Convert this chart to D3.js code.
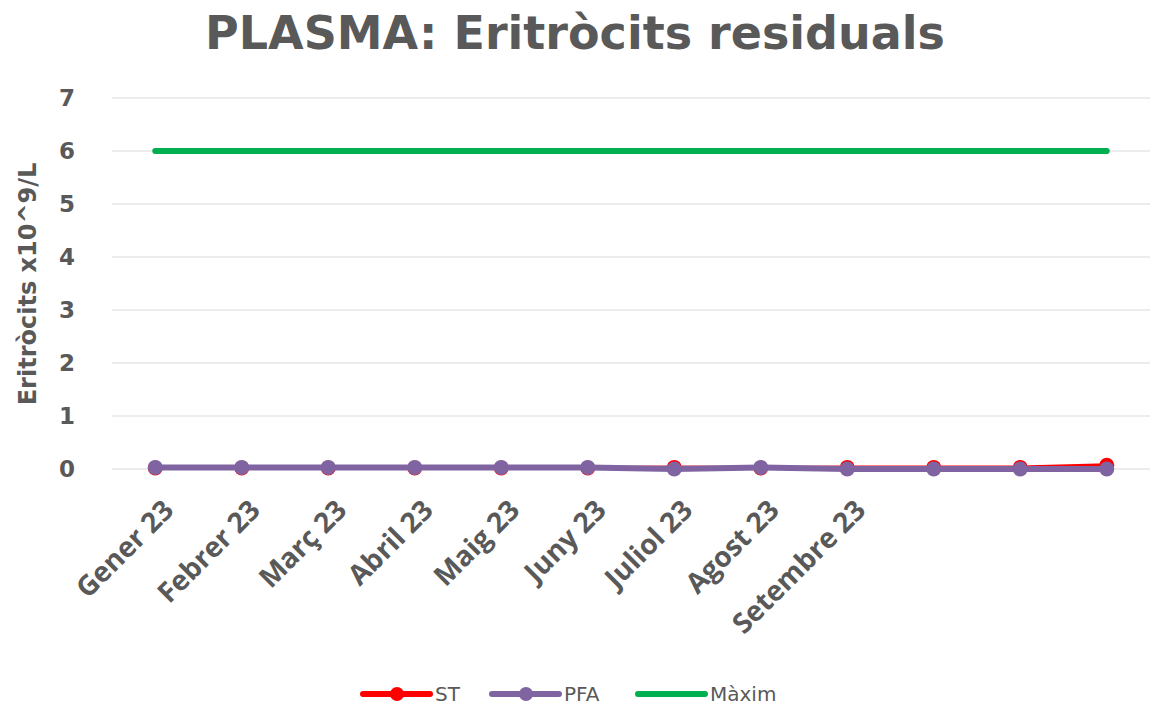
<!DOCTYPE html>
<html>
<head>
<meta charset="utf-8">
<script src="https://cdn.jsdelivr.net/npm/d3@7"></script>
<style>
  body { margin: 0; background: #fff; }
  text { fill: #595959; }
</style>
</head>
<body>
<div class="canvas"></div>
<script>
const months = ['Gener 23', 'Febrer 23', 'Març 23', 'Abril 23', 'Maig 23', 'Juny 23',
  'Juliol 23', 'Agost 23', 'Setembre 23', '', ' ', '  '];
const stValues = [0.02, 0.02, 0.02, 0.02, 0.02, 0.02, 0.03, 0.02, 0.03, 0.03, 0.03, 0.07];
const pfaValues = [0.03, 0.03, 0.03, 0.03, 0.03, 0.03, 0.0, 0.03, 0.0, 0.0, 0.0, 0.0];
const maxValues = [6, 6, 6, 6, 6, 6, 6, 6, 6, 6, 6, 6];
const yTicks = [0, 1, 2, 3, 4, 5, 6, 7];

const width = 1152, height = 709;
const svg = d3.select('.canvas').append('svg')
  .attr('width', width)
  .attr('height', height);

const margin = { top: 98, right: 2, bottom: 240, left: 112 };
const graphWidth = width - margin.left - margin.right;
const graphHeight = height - margin.top - margin.bottom;

const graph = svg.append('g')
  .attr('transform', `translate(${margin.left}, ${margin.top})`);

const x = d3.scaleBand()
  .domain(months)
  .range([0, graphWidth]);

const y = d3.scaleLinear()
  .domain([0, 7])
  .range([graphHeight, 0]);

// title
svg.append('text')
  .attr('x', 575)
  .attr('y', 49)
  .attr('text-anchor', 'middle')
  .style('font-family', 'DejaVu Sans')
  .style('font-weight', 'bold')
  .style('font-size', '46px')
  .text('PLASMA: Eritròcits residuals');

// gridlines
graph.append('g')
  .selectAll('line')
  .data(yTicks)
  .enter().append('line')
  .attr('x1', 0)
  .attr('x2', graphWidth)
  .attr('y1', d => y(d))
  .attr('y2', d => y(d))
  .attr('stroke', '#d9d9d9')
  .attr('stroke-width', 1.2);

// y axis
const yAxis = d3.axisLeft(y).tickValues(yTicks).tickFormat(d3.format('d')).tickSize(0).tickPadding(0);
const yAxisGroup = graph.append('g')
  .attr('transform', 'translate(-37, 0)')
  .call(yAxis);
yAxisGroup.select('.domain').remove();
yAxisGroup.selectAll('text')
  .style('font-family', 'DejaVu Sans')
  .style('font-weight', 'bold')
  .style('font-size', '23px')
  .attr('fill', '#595959');

// y axis title
svg.append('text')
  .attr('transform', 'translate(36, 284) rotate(-90)')
  .attr('text-anchor', 'middle')
  .style('font-family', 'DejaVu Sans')
  .style('font-weight', 'bold')
  .style('font-size', '24px')
  .text('Eritròcits x10^9/L');

// x axis
const xAxis = d3.axisBottom(x).tickSize(0).tickPadding(0);
const xAxisGroup = graph.append('g')
  .attr('transform', `translate(0, ${graphHeight})`)
  .call(xAxis);
xAxisGroup.select('.domain').remove();
xAxisGroup.selectAll('text')
  .attr('transform', 'translate(20, 43) rotate(-45)')
  .attr('text-anchor', 'end')
  .attr('dy', '0')
  .style('font-family', 'Open Sans')
  .style('font-weight', 'bold')
  .style('font-size', '28px')
  .attr('fill', '#595959');

const cx = d => x(d) + x.bandwidth() / 2;

const series = [
  { name: 'ST', values: stValues, color: '#ff0000', width: 4, marker: true },
  { name: 'PFA', values: pfaValues, color: '#8064a2', width: 6, marker: true },
  { name: 'Màxim', values: maxValues, color: '#00b050', width: 6, marker: false }
];

const line = d3.line()
  .x(d => cx(d.m))
  .y(d => y(d.v));

series.forEach(s => {
  const pts = months.map((m, i) => ({ m, v: s.values[i] }));
  graph.append('path')
    .datum(pts)
    .attr('d', line)
    .attr('fill', 'none')
    .attr('stroke', s.color)
    .attr('stroke-width', s.width)
    .attr('stroke-linecap', 'round')
    .attr('stroke-linejoin', 'round');
  if (s.marker) {
    graph.selectAll(null)
      .data(pts)
      .enter().append('circle')
      .attr('cx', d => cx(d.m))
      .attr('cy', d => y(d.v))
      .attr('r', 7.5)
      .attr('fill', s.color);
  }
});

// legend
const legendX = [363, 492, 638];
const legend = svg.append('g');
series.forEach((s, i) => {
  const g = legend.append('g').attr('transform', `translate(${legendX[i]}, 694)`);
  g.append('line')
    .attr('x1', 0).attr('x2', 67)
    .attr('stroke', s.color)
    .attr('stroke-width', 6)
    .attr('stroke-linecap', 'round');
  if (s.marker) {
    g.append('circle').attr('cx', 34).attr('r', 7).attr('fill', s.color);
  }
  g.append('text')
    .attr('x', 72)
    .attr('dy', '0.35em')
    .style('font-family', 'DejaVu Sans')
    .style('font-size', '20px')
    .text(s.name);
});
</script>
</body>
</html>
